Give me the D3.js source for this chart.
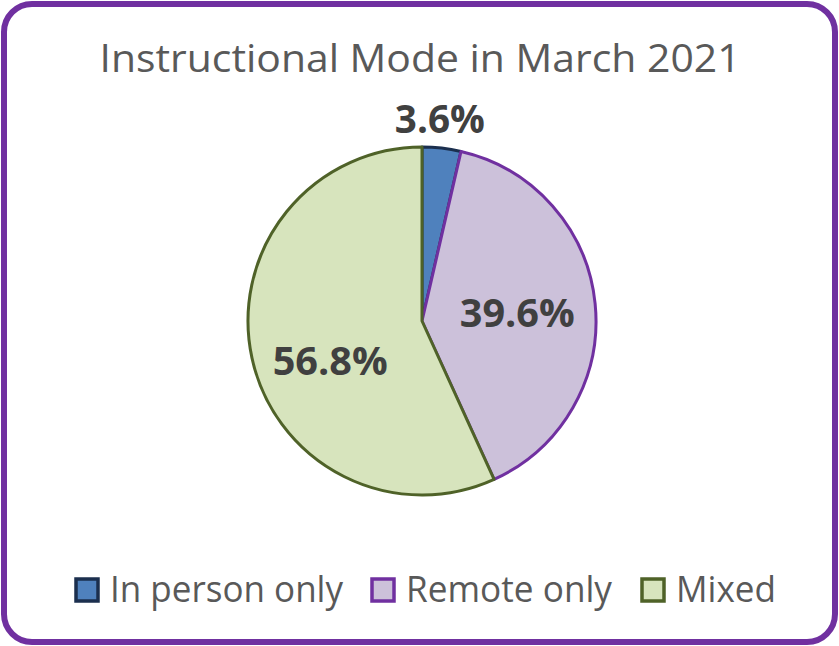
<!DOCTYPE html>
<html><head><meta charset="utf-8">
<script src="https://cdn.jsdelivr.net/npm/d3@7"></script>
<style>body{margin:0;background:#fff}svg{display:block}</style>
</head><body><svg id="c" width="839" height="646"></svg>
<script>
const categories = ["In person only", "Remote only", "Mixed"];
const values = [3.6, 39.6, 56.8];
const labels = ["3.6%", "39.6%", "56.8%"];
const fills = ["#4F81BD", "#CCC1DA", "#D7E4BD"];
const strokes = ["#1B2F4E", "#7030A0", "#4F6228"];
const title = "Instructional Mode in March 2021";

const svg = d3.select("#c");
const font = "'Open Sans', sans-serif";
svg.append("rect").attr("x",4).attr("y",4).attr("width",831).attr("height",638)
  .attr("rx",28).attr("fill","#fff").attr("stroke","#7030A0").attr("stroke-width",6);

svg.append("text").attr("x",420).attr("y",72).attr("text-anchor","middle")
  .attr("font-family",font).attr("font-size",39).attr("fill","#595959")
  .attr("textLength",641).attr("lengthAdjust","spacingAndGlyphs").text(title);

const cx=422, cy=321, r=174;
const g = svg.append("g").attr("transform",`translate(${cx},${cy})`);
const pie = d3.pie().sort(null).value(d=>d)(values);
const arc = d3.arc().innerRadius(0).outerRadius(r);
g.selectAll("path").data(pie).join("path").attr("d",arc)
  .attr("fill",(d,i)=>fills[i]).attr("stroke",(d,i)=>strokes[i]).attr("stroke-width",3)
  .attr("stroke-linejoin","round");

// label placement: radius factor and offsets per slice
const lblK = [1.11, 0.55, 0.54];
const lblDx = [-4, 0, 0];
const lblDy = [4, 16, 34];
const lblW = [90, 115, 115];
g.selectAll("text.lbl").data(pie).join("text").attr("class","lbl")
  .attr("transform",(d,i)=>{const c=d3.arc().innerRadius(r*lblK[i]).outerRadius(r*lblK[i]).centroid(d); return `translate(${c[0]+lblDx[i]},${c[1]+lblDy[i]})`;})
  .attr("text-anchor","middle").attr("font-family",font).attr("font-weight","bold")
  .attr("font-size",39).attr("fill","#404040")
  .attr("textLength",(d,i)=>lblW[i]).attr("lengthAdjust","spacingAndGlyphs")
  .text((d,i)=>labels[i]);

const legX = [76, 372, 642];
const legW = [233, 206, 100];
const lg = svg.selectAll("g.leg").data(categories).join("g").attr("class","leg")
  .attr("transform",(d,i)=>`translate(${legX[i]},579)`);
lg.append("rect").attr("x",0).attr("y",0).attr("width",22).attr("height",22)
  .attr("fill",(d,i)=>fills[i]).attr("stroke",(d,i)=>strokes[i]).attr("stroke-width",3.5);
lg.append("text").attr("x",34).attr("y",23).attr("font-family",font).attr("font-size",36)
  .attr("fill","#595959").attr("textLength",(d,i)=>legW[i]).attr("lengthAdjust","spacingAndGlyphs").text(d=>d);
</script></body></html>
